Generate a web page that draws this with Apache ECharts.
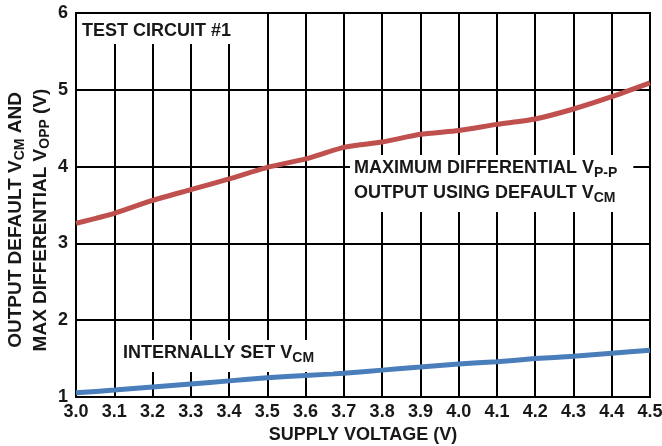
<!DOCTYPE html>
<html>
<head>
<meta charset="utf-8">
<script src="https://cdn.jsdelivr.net/npm/echarts@6/dist/echarts.min.js"></script>
<style>html,body{margin:0;padding:0;background:#fff}#c{width:662px;height:446px}</style>
</head>
<body>
<div id="c"></div>
<script>
var supplyVoltage = [3.0,3.1,3.2,3.3,3.4,3.5,3.6,3.7,3.8,3.9,4.0,4.1,4.2,4.3,4.4,4.5];
var maxDiffVpp   = [3.26,3.39,3.56,3.70,3.84,3.99,4.10,4.25,4.32,4.42,4.47,4.55,4.62,4.75,4.91,5.09];
var internalVcm  = [1.055,1.09,1.13,1.17,1.21,1.25,1.28,1.31,1.35,1.39,1.43,1.46,1.50,1.53,1.57,1.61];

function pairs(xs, ys){ return xs.map(function(x,i){ return [x, ys[i]]; }); }

var FONT = '"Liberation Sans", Arial, sans-serif';
var TXT = '#1a1718';
function rich(lh, main){
  return {
    m: { fontSize: main || 18, fontWeight: 'bold', fontFamily: FONT, color: TXT, fill: TXT, lineHeight: lh },
    s: { fontSize: 14, fontWeight: 'bold', fontFamily: FONT, color: TXT, fill: TXT, padding: [10,0,0,0] }
  };
}

var chart = echarts.init(document.getElementById('c'), null, {renderer: 'canvas'});
chart.setOption({
  animation: false,
  backgroundColor: '#fff',
  grid: { left: 76, right: 12, top: 13, bottom: 49, containLabel: false, outerBoundsMode: 'none',
          show: true, borderColor: '#000', borderWidth: 2, backgroundColor: 'transparent' },
  xAxis: {
    type: 'value', min: 3.0, max: 4.5, interval: 0.1,
    axisLine: { show: true, lineStyle: { color: '#000', width: 2 } },
    axisTick: { show: false },
    splitLine: { show: true, lineStyle: { color: '#000', width: 2 } },
    axisLabel: { color: TXT, fontSize: 18, fontWeight: 'bold', fontFamily: FONT, margin: 6, showMinLabel: true, showMaxLabel: true,
      hideOverlap: false, formatter: function(v){ return v.toFixed(1); } },
    name: 'SUPPLY VOLTAGE (V)', nameLocation: 'middle', nameGap: 29, nameMoveOverlap: false,
    nameTextStyle: { color: TXT, fontSize: 18, fontWeight: 'bold', fontFamily: FONT }
  },
  yAxis: {
    type: 'value', min: 1, max: 6, interval: 1,
    axisLine: { show: true, lineStyle: { color: '#000', width: 2 } },
    axisTick: { show: false },
    splitLine: { show: true, lineStyle: { color: '#000', width: 2 } },
    axisLabel: { color: TXT, fontSize: 18, fontWeight: 'bold', fontFamily: FONT, margin: 8 },
    name: '{m|OUTPUT DEFAULT V}{s|CM}{m| AND}\n{m|MAX DIFFERENTIAL V}{s|OPP}{m| (V)}',
    nameLocation: 'middle', nameGap: 23, nameRotate: 90, nameMoveOverlap: false,
    nameTextStyle: { color: TXT, fontSize: 19, fontWeight: 'bold', fontFamily: FONT, lineHeight: 25,
      padding: [0, 30, 0, 0], rich: rich(25, 19) }
  },
  series: [
    { type: 'line', data: pairs(supplyVoltage, maxDiffVpp), showSymbol: false, smooth: 0.2,
      lineStyle: { color: '#c0504d', width: 5 }, z: 5 },
    { type: 'line', data: pairs(supplyVoltage, internalVcm), showSymbol: false, smooth: 0.2,
      lineStyle: { color: '#4a7ebb', width: 5 }, z: 5 }
  ],
  graphic: [
    { type: 'text', z: 100, style: { x: 77, y: 14, text: 'TEST CIRCUIT #1', font: 'bold 18px ' + FONT, fill: TXT,
        backgroundColor: '#fff', padding: [8, 14, 4, 5], align: 'left', verticalAlign: 'top' } },
    { type: 'text', z: 100, style: { x: 350, y: 155, align: 'left', verticalAlign: 'top',
        text: '{m|MAXIMUM DIFFERENTIAL V}{s|P-P}\n{m|OUTPUT USING DEFAULT V}{s|CM}',
        rich: rich(25), backgroundColor: '#fff', padding: [1, 16, 6, 4] } },
    { type: 'text', z: 100, style: { x: 119, y: 340, align: 'left', verticalAlign: 'top',
        text: '{m|INTERNALLY SET V}{s|CM}',
        rich: rich(22), backgroundColor: '#fff', padding: [1, 19, 7, 4] } }
  ]
});
</script>
</body>
</html>
